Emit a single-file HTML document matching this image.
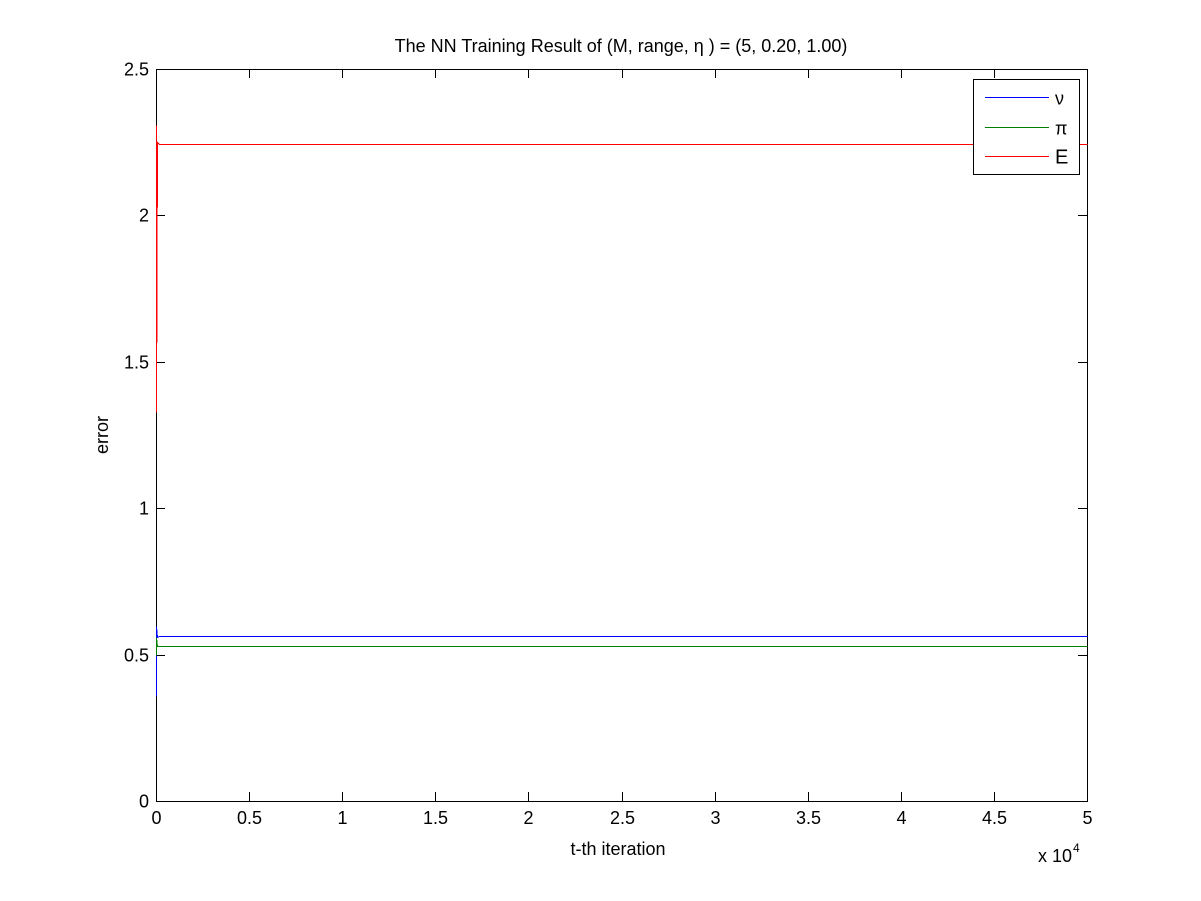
<!DOCTYPE html>
<html><head><meta charset="utf-8"><style>
body{margin:0;background:#fff;}
svg{display:block;font-family:"Liberation Sans",sans-serif;}
line,rect,polyline{shape-rendering:crispEdges;}
</style></head><body>
<svg id="chart" width="1201" height="901">
<rect width="1201" height="901" fill="#fff"/>
</svg>
<script>
const xTicks=[0,0.5,1,1.5,2,2.5,3,3.5,4,4.5,5];
const yTicks=[0,0.5,1,1.5,2,2.5];
const iters=[0,20,60,150,50000];
const nuVals=[0.36,0.598,0.56,0.5635,0.5635];
const piVals=[0.5,0.56,0.53,0.529,0.529];
const eVals=[2.31,1.33,2.25,2.244,2.244];
const L=156,R=1087,T=69,B=801;
const xs=v=>Math.round(L+(v/50000)*(R-L))+0.5;
const ys=v=>Math.round(B-(v/2.5)*(B-T))+0.5;
const svg=document.getElementById('chart');
const NS='http://www.w3.org/2000/svg';
function mk(t,a,txt){const e=document.createElementNS(NS,t);for(const k in a)e.setAttribute(k,a[k]);if(txt!=null)e.textContent=txt;svg.appendChild(e);return e;}
let e;
e=mk('rect',{x:L+0.5,y:T+0.5,width:R-L,height:B-T,fill:'#fff',stroke:'#000','stroke-width':1});


xTicks.forEach(t=>{const x=xs(t*10000);
mk('line',{x1:x,x2:x,y1:B,y2:B-9,stroke:'#000'});mk('line',{x1:x,x2:x,y1:T,y2:T+9,stroke:'#000'});
e=mk('text',{x:x,y:B+23,'text-anchor':'middle','font-size':18},String(t));

});
yTicks.forEach(t=>{const y=ys(t);
mk('line',{x1:L,x2:L+9,y1:y,y2:y,stroke:'#000'});mk('line',{x1:R,x2:R-9,y1:y,y2:y,stroke:'#000'});
e=mk('text',{x:L-7,y:y+6,'text-anchor':'end','font-size':18},String(t));

});
function series(vals,color,name){const pts=iters.map((v,i)=>xs(v)+','+ys(vals[i])).join(' ');
const p=mk('polyline',{points:pts,fill:'none',stroke:color,'stroke-width':1});

}
series(nuVals,'#0000ff','nu-line');
series(piVals,'#007f00','pi-line');
series(eVals,'#ff0000','e-line');
e=mk('text',{x:621,y:52,'text-anchor':'middle','font-size':18},'The NN Training Result of (M, range, η ) = (5, 0.20, 1.00)');


e=mk('text',{x:618,y:855,'text-anchor':'middle','font-size':18},'t-th iteration');


e=mk('text',{x:1038,y:862,'font-size':18},'x 10');


mk('text',{x:1073,y:852,'font-size':12},'4');
e=mk('text',{x:0,y:0,'text-anchor':'middle','font-size':18,transform:'translate(108,435) rotate(-90)'},'error');


const lg=mk('rect',{x:973.5,y:79.5,width:106,height:95,fill:'#fff',stroke:'#000'});


[['ν','#0000ff',97.5],['π','#007f00',127.5],['E','#ff0000',156.5]].forEach(([l,c,y])=>{
mk('line',{x1:985,x2:1049,y1:y,y2:y,stroke:c});
const t=mk('text',{x:1055,y:y+7,'font-size':l==='E'?20:18},l);

});
</script>
</body></html>
